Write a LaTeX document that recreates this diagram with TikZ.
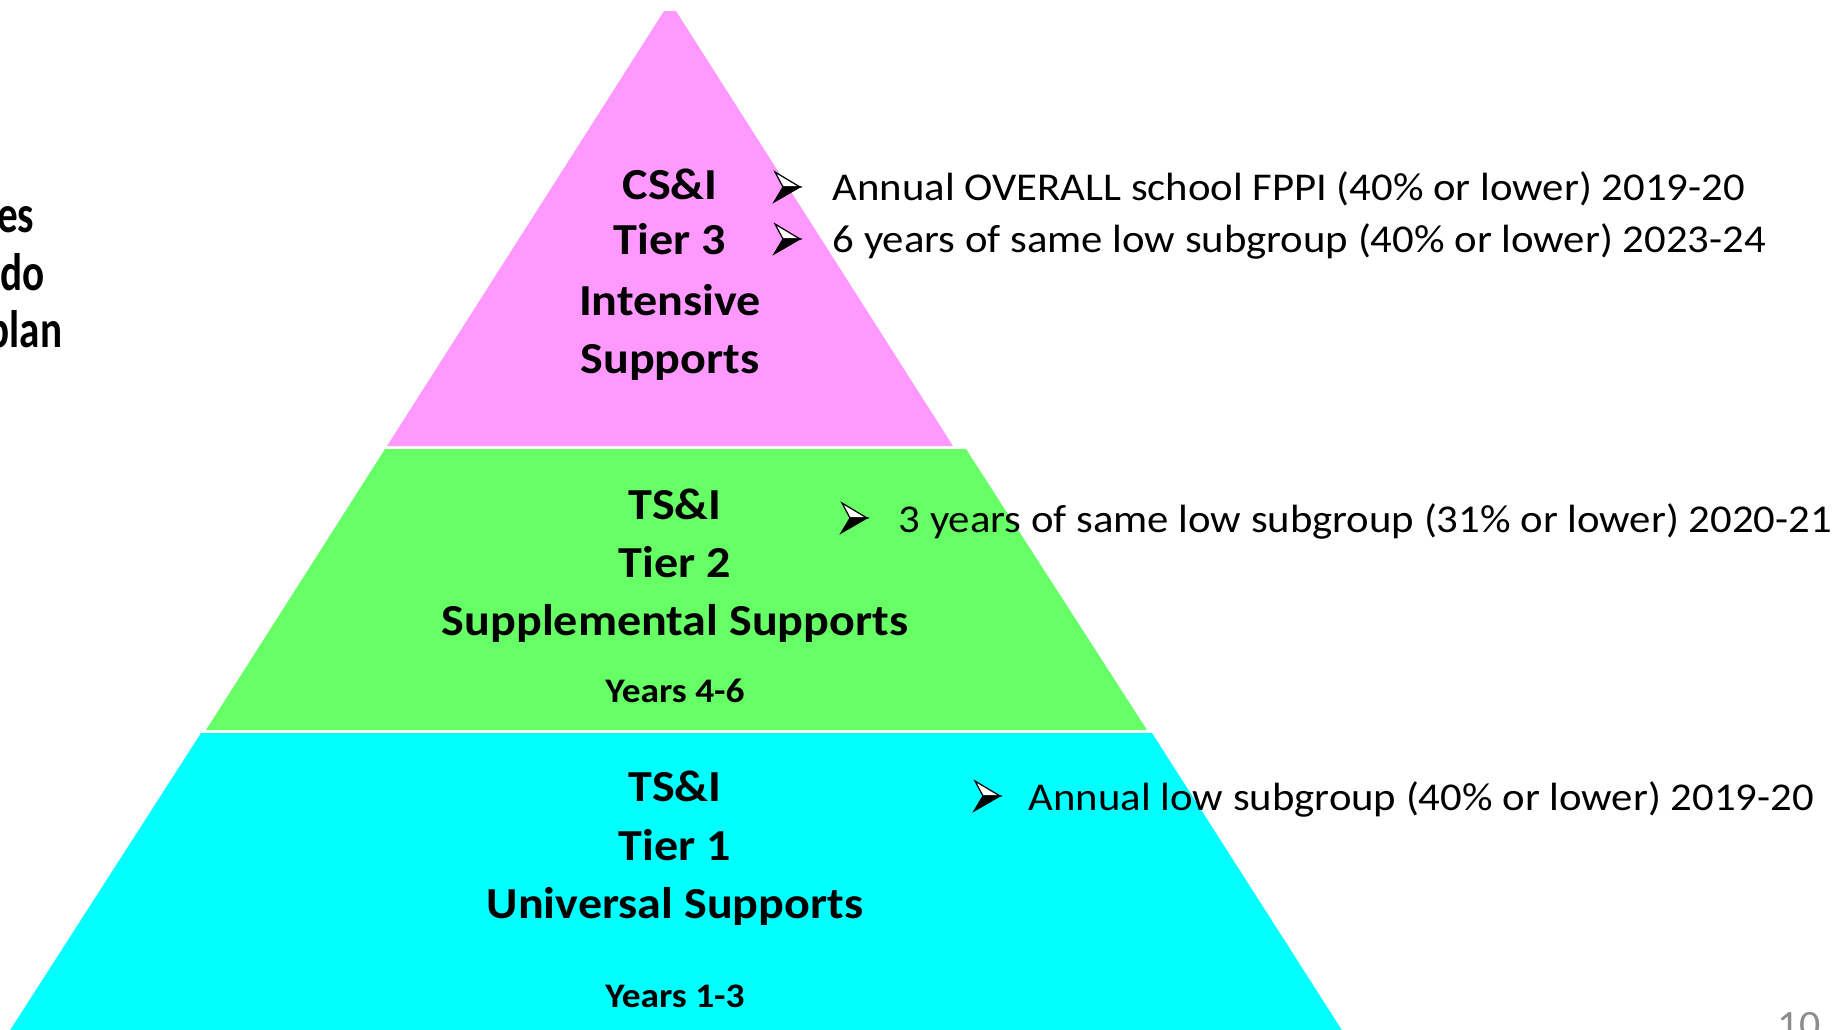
\documentclass[tikz,border=0pt]{standalone}
\usepackage{fontspec}
\setmainfont{Carlito}[FakeStretch=1.085]
\newfontfamily\sidefont{Carlito}[FakeStretch=0.78]
\definecolor{tierpink}{RGB}{255,153,255}
\definecolor{tiergreen}{RGB}{102,255,102}
\definecolor{tiercyan}{RGB}{0,255,255}
\definecolor{pagegray}{RGB}{140,140,140}
\tikzset{
  tiername/.style={anchor=base, inner sep=0pt, font=\bfseries\fontsize{12.6}{15}\selectfont},
  tieryears/.style={anchor=base, inner sep=0pt, font=\bfseries\fontsize{9.8}{12}\selectfont},
  critline/.style={anchor=base west, inner sep=0pt, font=\fontsize{11.2}{13}\selectfont},
  sidecut/.style={anchor=base east, inner sep=0pt, font=\sidefont\bfseries\fontsize{15}{18}\selectfont},
  bulletmark/.pic={
    \draw[line width=0.35pt, fill=white] (1,-15) -- (26,0) -- (9,0) -- cycle;
    \draw[line width=0.35pt, fill=black] (9,0) -- (26,0) -- (0,15) -- cycle;
  }
}

\begin{document}
\begin{tikzpicture}[x=0.01cm, y=-0.01cm]
	\useasboundingbox (0,0) rectangle (1836,1029);
	\clip (0,0) rectangle (1836,1029);
	
	%%%%% PYRAMID %%%%%
	\fill[tierpink] (664,11) -- (676,11) -- (953,446) -- (387,446) -- cycle;
	\fill[tiergreen] (385,449) -- (966,449) -- (1147,730) -- (206,730) -- cycle;
	\fill[tiercyan] (201,733) -- (1152,733) -- (1345,1035) -- (7,1035) -- cycle;
	
	%%%%% LEFT (cut off) %%%%%
	\node[sidecut] (cutA) at (35,232) {es};
	\node[sidecut] (cutB) at (45,290) {do};
	\node[sidecut] (cutC) at (63,347) {plan};
	
	%%%%% TIER 3 %%%%%
	\node[tiername] (csiA) at (670,199) {CS\&I};
	\node[tiername] (csiB) at (670,254) {Tier 3};
	\node[tiername] (csiC) at (670,315) {Intensive};
	\node[tiername] (csiD) at (670,373) {Supports};
	
	%%%%% TIER 2 %%%%%
	\node[tiername] (tsiA) at (675,519) {TS\&I};
	\node[tiername] (tsiB) at (675,577) {Tier 2};
	\node[tiername] (tsiC) at (675,635) {Supplemental Supports};
	\node[tieryears] (tsiD) at (675,702) {Years 4-6};
	
	%%%%% TIER 1 %%%%%
	\node[tiername] (tsuA) at (675,801) {TS\&I};
	\node[tiername] (tsuB) at (675,860) {Tier 1};
	\node[tiername] (tsuC) at (675,918) {Universal Supports};
	\node[tieryears] (tsuD) at (675,1007) {Years 1-3};
	
	%%%%% CRITERIA %%%%%
	\pic at (774,187) {bulletmark};
	\node[critline] (critA) at (832,200) {Annual OVERALL school FPPI (40\% or lower) 2019-20};
	\pic at (774,239) {bulletmark};
	\node[critline] (critB) at (832,252) {6 years of same low subgroup (40\% or lower) 2023-24};
	\pic at (841,518) {bulletmark};
	\node[critline] (critC) at (898,532) {3 years of same low subgroup (31\% or lower) 2020-21};
	\pic at (974,796) {bulletmark};
	\node[critline] (critD) at (1028,810) {Annual low subgroup (40\% or lower) 2019-20};
	
	\node[anchor=base west, inner sep=0pt, text=pagegray, font=\fontsize{11}{14}\selectfont] (pageno) at (1777,1037) {10};
\end{tikzpicture}
\end{document}
